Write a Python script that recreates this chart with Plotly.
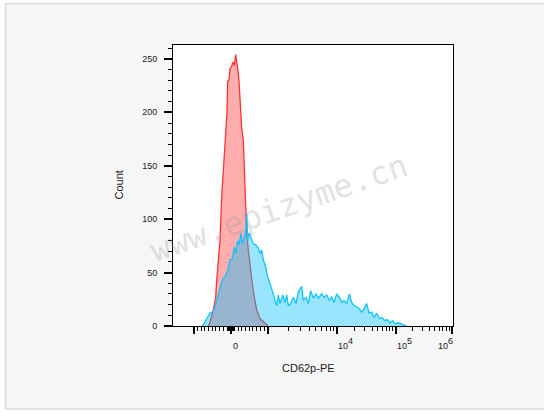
import numpy as np
import plotly.graph_objects as go

# ---- Data (x = display channel across the biexponential axis, 0..280) ----
iso_ch = [35.5, 37.0, 40.3, 42.7, 43.7, 45.3, 47.0, 48.7, 50.3, 52.0,
          54.0, 54.7, 56.0, 57.0, 58.7, 59.7, 61.3, 62.7, 63.7, 64.7,
          66.0, 67.3, 68.7, 70.3, 71.0, 72.0, 72.7, 73.7, 75.3, 77.0,
          79.3, 81.3, 83.7, 87.0, 90.3, 93.7, 95.0]
iso_count = [0, 4, 15, 27, 43, 58, 80, 121, 143, 174,
             200, 229, 230, 241, 243, 247, 244, 254, 249, 241,
             229, 207, 185, 174, 155, 130, 112, 88, 71, 55,
             40, 27, 15, 7, 4, 1, 0]

cd62_ch = [28.7, 30.3, 33.7, 37.0, 38.7, 40.3, 42.0, 44.7, 47.0, 49.3,
           52.0, 54.7, 57.0, 59.3, 61.3, 62.7, 64.7, 66.0, 68.0, 69.3,
           71.3, 72.7, 73.7, 74.7, 76.0, 78.0, 80.3, 82.7, 85.3, 87.0,
           88.7, 90.3, 92.7, 94.7, 97.0, 98.7, 100.3, 102.0, 103.7, 105.3,
           107.0, 109.7, 112.0, 113.7, 115.3, 117.7, 120.3, 123.0, 125.3, 128.7,
           130.3, 133.0, 135.3, 137.7, 140.3, 143.0, 145.3, 148.7, 151.0, 153.7,
           156.3, 158.7, 161.0, 163.7, 166.3, 168.7, 171.0, 173.7, 176.3, 178.7,
           181.0, 183.7, 186.3, 188.7, 191.0, 193.7, 196.0, 198.7, 201.0, 203.7,
           206.3, 208.7, 212.0, 214.3, 217.0, 219.7, 222.0, 225.3, 228.7, 232.0,
           233.7]
cd62_count = [0, 1, 7, 12, 13, 13, 18, 27, 35, 43,
              46, 52, 62, 63, 74, 68, 80, 76, 87, 77,
              83, 90, 105, 80, 87, 83, 77, 76, 73, 68,
              71, 62, 55, 46, 40, 35, 30, 24, 19, 29,
              21, 29, 22, 29, 19, 21, 27, 21, 32, 37,
              24, 27, 21, 33, 26, 30, 26, 30, 27, 29,
              24, 27, 22, 30, 27, 22, 24, 21, 30, 22,
              19, 18, 16, 13, 16, 21, 12, 13, 8, 12,
              7, 8, 5, 6, 3, 5, 2, 3, 2, 1,
              0]

# biexponential axis: reference values and their display channels
scale_vals = [-1000, 0, 1000, 1e4, 1e5, 1e6]
scale_ch = [20.7, 57.7, 94.7, 163.7, 222.5, 278.7]

major_vals = [-1000, 0, 1000, 1e4, 1e5, 1e6]
minor_vals = ([v for v in range(-900, 0, 100)] + [v for v in range(-90, 100, 10) if v != 0]
              + [v for v in range(100, 1000, 100)]
              + [k * 10 ** d for d in (3, 4, 5) for k in range(2, 10)])
label_vals = [0, 1e4, 1e5, 1e6]
label_base = ["0", "10", "10", "10"]
label_exp = ["", "4", "5", "6"]

y_ticks = [0, 50, 100, 150, 200, 250]
y_max = 263


def to_ch(v):
    if v <= 1000:
        return float(np.interp(v, scale_vals[:3], scale_ch[:3]))
    return float(np.interp(np.log10(v), [3, 4, 5, 6], scale_ch[2:]))


FONT = "Arial, Liberation Sans, sans-serif"

fig = go.Figure()
fig.add_trace(go.Scatter(x=iso_ch, y=iso_count, mode="lines", fill="tozeroy",
                         line=dict(color="#ff3434", width=1.3),
                         fillcolor="rgba(255,0,0,0.32)", showlegend=False))
fig.add_trace(go.Scatter(x=cd62_ch, y=cd62_count, mode="lines", fill="tozeroy",
                         line=dict(color="#10c4ff", width=1.3),
                         fillcolor="rgba(0,190,255,0.40)", showlegend=False))

L, T, W, H = 173, 45, 280, 281
FW, FH = 544, 412


def px(x):
    return (x - L) / W


def py(y):
    return (T + H - y) / H


fig.update_layout(
    width=FW, height=FH,
    margin=dict(l=L, r=FW - L - W, t=T, b=FH - T - H, pad=0),
    paper_bgcolor="#f6f6f6", plot_bgcolor="white",
    font=dict(family=FONT, size=9, color="#1a1a1a"),
    xaxis=dict(range=[0, 280], showgrid=False, zeroline=False,
               showline=True, mirror=True, linecolor="black", linewidth=1,
               tickmode="array", tickvals=[to_ch(v) for v in major_vals],
               showticklabels=False, ticks="outside", ticklen=7, tickwidth=1.6,
               tickcolor="black",
               minor=dict(tickmode="array", tickvals=[to_ch(v) for v in minor_vals],
                          ticks="outside", ticklen=4, tickwidth=1, tickcolor="black")),
    yaxis=dict(range=[0, y_max], showgrid=False, zeroline=False,
               showline=True, mirror=True, linecolor="black", linewidth=1,
               tickmode="array", tickvals=y_ticks, ticks="outside", ticklen=8,
               tickwidth=1.8, tickcolor="black", ticklabelstandoff=5,
               tickfont=dict(size=9, family=FONT, color="#1a1a1a"),
               minor=dict(tickmode="linear", tick0=0, dtick=10, ticks="outside",
                          ticklen=4, tickwidth=1, tickcolor="black")),
)

# frame around the whole picture
shapes = [
    dict(type="rect", xref="paper", yref="paper", x0=px(-2), x1=px(5), y0=py(420), y1=py(-2),
         fillcolor="white", line=dict(width=0), layer="above"),
    dict(type="rect", xref="paper", yref="paper", x0=px(-2), x1=px(560), y0=py(3), y1=py(-2),
         fillcolor="white", line=dict(width=0), layer="above"),
    dict(type="rect", xref="paper", yref="paper", x0=px(-2), x1=px(560), y0=py(420), y1=py(409.5),
         fillcolor="white", line=dict(width=0), layer="above"),
    dict(type="rect", xref="paper", yref="paper", x0=px(5.5), x1=px(600), y0=py(409), y1=py(3.5),
         fillcolor="rgba(0,0,0,0)", line=dict(color="#dadada", width=1.5), layer="above"),
]
fig.update_layout(shapes=shapes)

ann = []
# x tick labels (base and raised exponent placed beside it)
LBL = dict(size=9, family=FONT, color="#1a1a1a")
for i, (v, b, e) in enumerate(zip(label_vals, label_base, label_exp)):
    last = i == len(label_vals) - 1
    if e == "":
        ann.append(dict(x=to_ch(v), xref="x", y=0, yref="paper", text=b, showarrow=False,
                        xanchor="center", yanchor="middle", xshift=5, yshift=-20, font=LBL))
        continue
    bx = -16 if last else -1
    ann.append(dict(x=to_ch(v), xref="x", y=0, yref="paper", text=b, showarrow=False,
                    xanchor="left", yanchor="middle", xshift=bx, yshift=-20, font=LBL))
    ann.append(dict(x=to_ch(v), xref="x", y=0, yref="paper", text=e, showarrow=False,
                    xanchor="left", yanchor="middle", xshift=bx + 10, yshift=-15, font=LBL))
# axis titles
ann.append(dict(x=px(308.5), y=py(376), xref="paper", yref="paper", text="CD62p-PE",
                showarrow=False, font=dict(size=11, family=FONT, color="#1a1a1a")))
ann.append(dict(x=px(110), y=py(185.5), xref="paper", yref="paper", text="Count",
                textangle=-90, showarrow=False, font=dict(size=11, family=FONT, color="#1a1a1a")))
# watermark
ann.append(dict(x=px(279), y=py(208), xref="paper", yref="paper",
                text="www.epizyme.cn", textangle=-19, showarrow=False,
                font=dict(size=32, family="DejaVu Sans Mono, Liberation Mono, monospace",
                          color="rgba(150,150,150,0.30)")))
fig.update_layout(annotations=ann)

fig.write_html("out.html", config={"displayModeBar": False},
               post_script="document.body.style.margin='0';document.body.style.overflow='hidden';")
